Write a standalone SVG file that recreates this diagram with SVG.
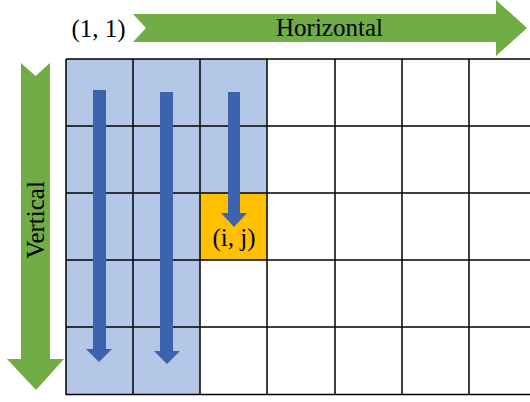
<svg xmlns="http://www.w3.org/2000/svg" width="530" height="402" viewBox="0 0 530 402">
<style>
.t{font-family:"Liberation Serif","Times New Roman",serif;font-size:25px;fill:#000}
.g{fill:#70AD47}
.b{fill:#3D63AE}
.grid line{stroke:#000;stroke-width:1.5}
</style>
<rect width="530" height="402" fill="#fff"/>
<g id="cells">
<rect x="66" y="59" width="134" height="335" fill="#B4C7E7"/>
<rect x="200" y="59" width="67" height="134" fill="#B4C7E7"/>
<rect id="cell-ij" x="200" y="193" width="67" height="67" fill="#FFC000"/>
</g>
<g class="grid" id="grid">
<line x1="66" y1="59" x2="536" y2="59"/>
<line x1="66" y1="126" x2="536" y2="126"/>
<line x1="66" y1="193" x2="536" y2="193"/>
<line x1="66" y1="260" x2="536" y2="260"/>
<line x1="66" y1="327" x2="536" y2="327"/>
<line x1="66" y1="394.5" x2="536" y2="394.5"/>
<line x1="66" y1="59" x2="66" y2="395"/>
<line x1="133" y1="59" x2="133" y2="395"/>
<line x1="200" y1="59" x2="200" y2="395"/>
<line x1="267" y1="59" x2="267" y2="395"/>
<line x1="335" y1="59" x2="335" y2="395"/>
<line x1="402" y1="59" x2="402" y2="395"/>
<line x1="469" y1="59" x2="469" y2="395"/>
</g>
<g id="horizontal-arrow">
<polygon class="g" points="133,14 496,14 496,0 527,28 496,56 496,42 133,42 146,28"/>
<text class="t" x="329.5" y="36" text-anchor="middle">Horizontal</text>
</g>
<g id="origin-label">
<text class="t" x="98.5" y="36.5" text-anchor="middle">(1, 1)</text>
</g>
<g id="vertical-arrow">
<polygon class="g" points="21,63 35.5,76 50,63 50,359 64,359 36,390 7,359 21,359"/>
<text class="t" transform="translate(44,220) rotate(-90)" text-anchor="middle">Vertical</text>
</g>
<g id="connectors">
<polygon class="b" points="93,90 106,90 106,349 112,349 99,362 86,349 93,349"/>
<polygon class="b" points="160,92 173,92 173,351 180,351 167,364 154,351 160,351"/>
<polygon class="b" points="228,92 240,92 240,213 247,213 234,227 221,213 228,213"/>
</g>
<g id="ij-label">
<text class="t" x="234" y="246" text-anchor="middle">(i, j)</text>
</g>
</svg>
